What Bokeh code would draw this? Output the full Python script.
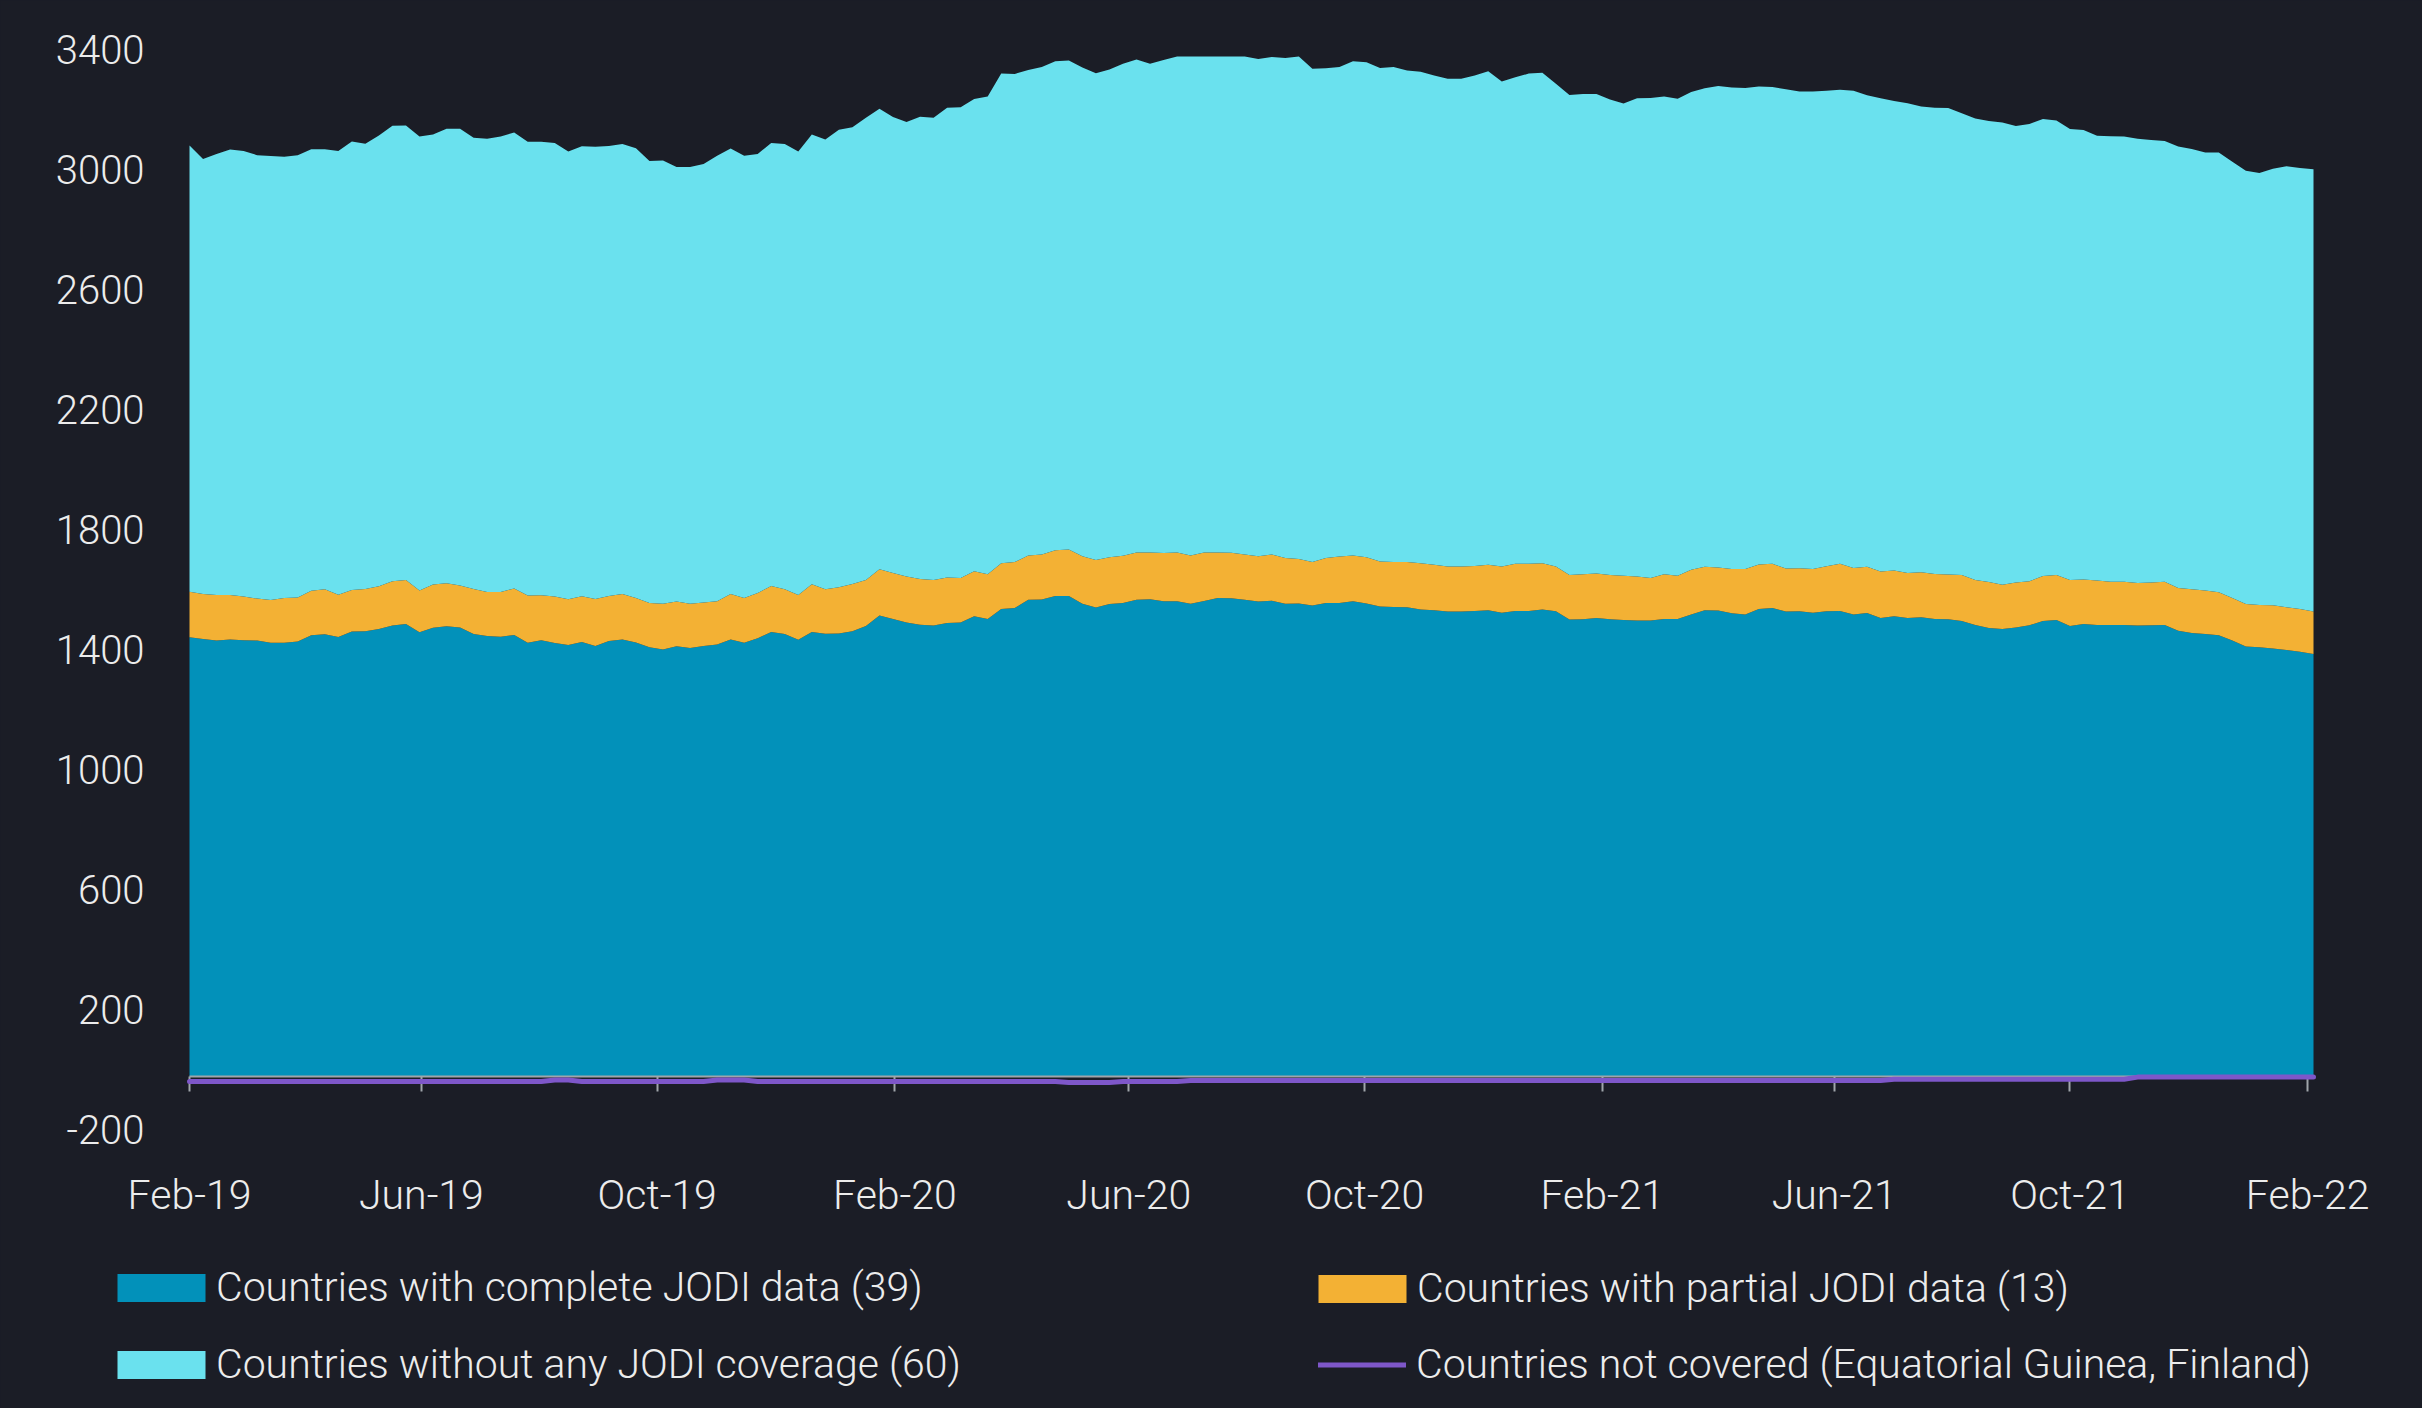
import pandas as pd
from bokeh.plotting import figure
from bokeh.models import (ColumnDataSource, Range1d, FixedTicker, Legend, LegendItem,
                          DatetimeAxis, LinearAxis, GlobalInlineStyleSheet)
from bokeh.embed import file_html
from bokeh.resources import INLINE

# ---------------- data ----------------
start_date = "2019-02-01"
n_weeks = 158
dates = pd.date_range(start_date, periods=n_weeks, freq="7D")

complete = [
    1464, 1458, 1453, 1457, 1454, 1453, 1446, 1446, 1450, 1471,
    1474, 1465, 1483, 1484, 1492, 1503, 1508, 1481, 1496, 1501,
    1497, 1475, 1468, 1466, 1472, 1446, 1454, 1445, 1438, 1448,
    1435, 1452, 1457, 1447, 1431, 1423, 1434, 1428, 1435, 1440,
    1457, 1446, 1461, 1482, 1475, 1456, 1482, 1476, 1477, 1484,
    1502, 1537, 1525, 1513, 1506, 1503, 1512, 1513, 1534, 1525,
    1558, 1562, 1589, 1590, 1602, 1602, 1576, 1563, 1575, 1578,
    1589, 1591, 1584, 1584, 1576, 1585, 1595, 1594, 1589, 1583,
    1586, 1576, 1577, 1570, 1578, 1578, 1584, 1577, 1567, 1565,
    1564, 1557, 1554, 1550, 1550, 1552, 1554, 1546, 1552, 1552,
    1557, 1551, 1523, 1524, 1528, 1524, 1522, 1520, 1520, 1525,
    1525, 1540, 1554, 1553, 1544, 1540, 1558, 1562, 1550, 1551,
    1546, 1551, 1552, 1540, 1545, 1528, 1534, 1528, 1531, 1525,
    1524, 1518, 1505, 1495, 1492, 1497, 1504, 1518, 1522, 1502,
    1508, 1505, 1505, 1505, 1503, 1504, 1505, 1486, 1478, 1475,
    1471, 1453, 1433, 1431, 1427, 1422, 1416, 1408,
]

partial = [
    152, 150, 152, 148, 146, 140, 142, 149, 147, 148,
    150, 141, 139, 141, 142, 148, 147, 139, 144, 143,
    140, 150, 147, 149, 155, 157, 150, 155, 153, 153,
    157, 150, 151, 148, 147, 153, 149, 148, 145, 144,
    151, 149, 151, 153, 149, 149, 159, 148, 154, 158,
    153, 154, 153, 154, 152, 152, 151, 149, 150, 149,
    153, 153, 148, 150, 152, 155, 158, 159, 156, 158,
    158, 156, 161, 163, 161, 162, 152, 152, 151, 151,
    154, 152, 148, 145, 150, 155, 153, 154, 150, 150,
    151, 154, 152, 150, 150, 150, 152, 154, 157, 157,
    154, 149, 149, 150, 149, 148, 147, 147, 142, 149,
    144, 149, 145, 144, 148, 152, 149, 147, 143, 143,
    146, 150, 157, 155, 154, 155, 153, 150, 150, 150,
    149, 154, 150, 153, 147, 150, 147, 150, 150, 153,
    149, 148, 144, 144, 142, 143, 144, 142, 146, 145,
    143, 142, 142, 141, 144, 142, 142, 142,
]

without = [
    1487, 1450, 1470, 1485, 1485, 1478, 1480, 1471, 1474, 1472,
    1467, 1479, 1495, 1484, 1503, 1518, 1515, 1513, 1500, 1515,
    1522, 1504, 1511, 1518, 1520, 1513, 1512, 1512, 1492, 1500,
    1507, 1500, 1500, 1499, 1474, 1477, 1449, 1456, 1462, 1485,
    1485, 1474, 1463, 1477, 1484, 1478, 1499, 1499, 1525, 1522,
    1541, 1535, 1520, 1515, 1541, 1541, 1566, 1569, 1574, 1593,
    1632, 1627, 1618, 1625, 1630, 1630, 1629, 1622, 1626, 1640,
    1643, 1629, 1643, 1653, 1663, 1653, 1653, 1654, 1660, 1658,
    1658, 1667, 1675, 1644, 1633, 1632, 1647, 1650, 1645, 1650,
    1638, 1638, 1631, 1626, 1626, 1635, 1645, 1617, 1622, 1634,
    1635, 1609, 1600, 1601, 1598, 1585, 1574, 1594, 1600, 1593,
    1590, 1593, 1595, 1605, 1605, 1603, 1593, 1589, 1598, 1589,
    1591, 1585, 1580, 1591, 1572, 1578, 1565, 1566, 1552, 1554,
    1555, 1539, 1538, 1537, 1541, 1521, 1524, 1524, 1515, 1503,
    1498, 1483, 1485, 1484, 1481, 1475, 1469, 1472, 1468, 1460,
    1466, 1454, 1444, 1440, 1455, 1470, 1470, 1474,
]

not_covered = [
    -17, -17, -17, -17, -17, -17, -17, -17, -17, -17,
    -17, -17, -17, -17, -17, -17, -17, -17, -17, -17,
    -17, -17, -17, -17, -17, -17, -17, -12, -12, -17,
    -17, -17, -17, -17, -17, -17, -17, -17, -17, -12,
    -12, -12, -17, -17, -17, -17, -17, -17, -17, -17,
    -17, -17, -17, -17, -17, -17, -17, -17, -17, -17,
    -17, -17, -17, -17, -17, -20, -20, -20, -20, -17,
    -17, -17, -17, -17, -13, -13, -13, -13, -13, -13,
    -13, -13, -13, -13, -13, -13, -13, -13, -13, -13,
    -13, -13, -13, -13, -13, -13, -13, -13, -13, -13,
    -13, -13, -13, -13, -13, -13, -13, -13, -13, -13,
    -13, -13, -13, -13, -13, -13, -13, -13, -13, -13,
    -13, -13, -13, -13, -13, -13, -9, -9, -9, -9,
    -9, -9, -9, -9, -9, -9, -9, -9, -9, -9,
    -9, -9, -9, -9, -2, -2, -2, -2, -2, -2,
    -2, -2, -2, -2, -2, -2, -2, -2,
]

x_tick_dates = ["2019-02-01", "2019-06-01", "2019-10-01", "2020-02-01", "2020-06-01",
                "2020-10-01", "2021-02-01", "2021-06-01", "2021-10-01", "2022-02-01"]
x_tick_labels = ["Feb-19", "Jun-19", "Oct-19", "Feb-20", "Jun-20",
                 "Oct-20", "Feb-21", "Jun-21", "Oct-21", "Feb-22"]
y_ticks = [-200, 200, 600, 1000, 1400, 1800, 2200, 2600, 3000, 3400]
y_tick_labels = ["-200", "200", "600", "1000", "1400", "1800", "2200", "2600", "3000", "3400"]

series_names = ["Countries with complete JODI data (39)",
                "Countries with partial JODI data (13)",
                "Countries without any JODI coverage (60)",
                "Countries not covered (Equatorial Guinea, Finland)"]

# ---------------- layout (pixels) ----------------
W, H = 2422, 1408
PLOT_L, PLOT_R = 189, 2313      # where the data starts / ends horizontally
PLOT_T, PLOT_B = 56, 1136       # y = 3400 / y = -200
Y_TOP, Y_BOT = 3400, -200
Y_LABEL_RAISE_PX = 7            # value labels sit slightly above their tick value

# ---------------- style ----------------
BG = "#1B1D26"
C_COMPLETE = "#0291BA"
C_PARTIAL = "#F3B134"
C_WITHOUT = "#6AE1EE"
C_NOT = "#7E57C9"
TXT = "#ECECEC"
AXIS = "#A0A5AA"
FONT = "Roboto Light"
FS_Y = "40px"
FS = "41px"

# The frame covers the whole canvas so that tick labels and legend
# (which sit outside the data area) are not clipped.
t0, t1 = dates[0], dates[-1]
px_per_ms = (PLOT_R - PLOT_L) / (t1 - t0).total_seconds() / 1000
x_start = t0 - pd.Timedelta(milliseconds=PLOT_L / px_per_ms)
x_end = t1 + pd.Timedelta(milliseconds=(W - PLOT_R) / px_per_ms)
px_per_unit = (PLOT_B - PLOT_T) / (Y_TOP - Y_BOT)
y_end = Y_TOP + PLOT_T / px_per_unit
y_start = Y_TOP - (H - PLOT_T) / px_per_unit
lab_shift = Y_LABEL_RAISE_PX / px_per_unit

source = ColumnDataSource(dict(date=dates, complete=complete, partial=partial,
                               without=without, not_covered=not_covered))

p = figure(width=W, height=H, x_axis_type="datetime",
           output_backend="svg", toolbar_location=None,
           x_range=Range1d(x_start, x_end), y_range=Range1d(y_start, y_end),
           min_border=0)
p.extra_y_ranges = {"labels": Range1d(y_start - lab_shift, y_end - lab_shift)}
p.background_fill_color = BG
p.border_fill_color = BG
p.outline_line_color = None
p.xgrid.visible = False
p.ygrid.visible = False
p.xaxis.visible = False
p.yaxis.visible = False
p.stylesheets = [GlobalInlineStyleSheet(css=f"body {{ background: {BG}; }}")]

areas = p.varea_stack(["complete", "partial", "without"], x="date",
                      color=[C_COMPLETE, C_PARTIAL, C_WITHOUT], source=source)
line = p.line("date", "not_covered", source=source, line_color=C_NOT,
              line_width=5, line_cap="round", line_join="round", level="overlay")

tick_ms = [pd.Timestamp(d).value / 1e6 for d in x_tick_dates]
t0_ms, t1_ms = t0.value / 1e6, t1.value / 1e6

# x axis drawn at y = 0, spanning the data only
xa = DatetimeAxis(fixed_location=0, bounds=(t0_ms, t1_ms),
                  ticker=FixedTicker(ticks=tick_ms),
                  major_label_overrides={t: lab for t, lab in zip(tick_ms, x_tick_labels)},
                  axis_line_color=AXIS, axis_line_width=2,
                  major_tick_line_color=AXIS, major_tick_line_width=2,
                  major_tick_out=15, major_tick_in=0,
                  minor_tick_line_color=None,
                  major_label_standoff=79,
                  major_label_text_font=FONT, major_label_text_font_size=FS,
                  major_label_text_color=TXT)
p.add_layout(xa, "below")

# y axis labels drawn left of the first date
ya = LinearAxis(fixed_location=t0_ms, y_range_name="labels",
                ticker=FixedTicker(ticks=y_ticks),
                major_label_overrides={t: lab for t, lab in zip(y_ticks, y_tick_labels)},
                axis_line_color=None, major_tick_line_color=None,
                minor_tick_line_color=None, major_label_standoff=39,
                major_label_text_font=FONT, major_label_text_font_size=FS_Y,
                major_label_text_color=TXT)
p.add_layout(ya, "left")

def make_legend(items, loc, gw, gh, standoff):
    return Legend(items=items, location=loc, orientation="vertical",
                  glyph_width=gw, glyph_height=gh, label_standoff=standoff,
                  spacing=29, padding=0, margin=0,
                  label_text_font=FONT, label_text_font_size=FS,
                  label_text_color=TXT, background_fill_alpha=0,
                  border_line_color=None)

# area swatches are drawn at 80% of the glyph box, hence 110 x 35
leg_a = make_legend([LegendItem(label=series_names[0], renderers=[areas[0]]),
                     LegendItem(label=series_names[2], renderers=[areas[2]])],
                    (106, 20), 110, 35, 0)
leg_b1 = make_legend([LegendItem(label=series_names[1], renderers=[areas[1]])],
                     (1307, 96), 110, 35, 0)
leg_b2 = make_legend([LegendItem(label=series_names[3], renderers=[line])],
                     (1318, 20), 88, 35, 10)
for lg in (leg_a, leg_b1, leg_b2):
    p.add_layout(lg)

open("out.html", "w").write(file_html(p, INLINE))
